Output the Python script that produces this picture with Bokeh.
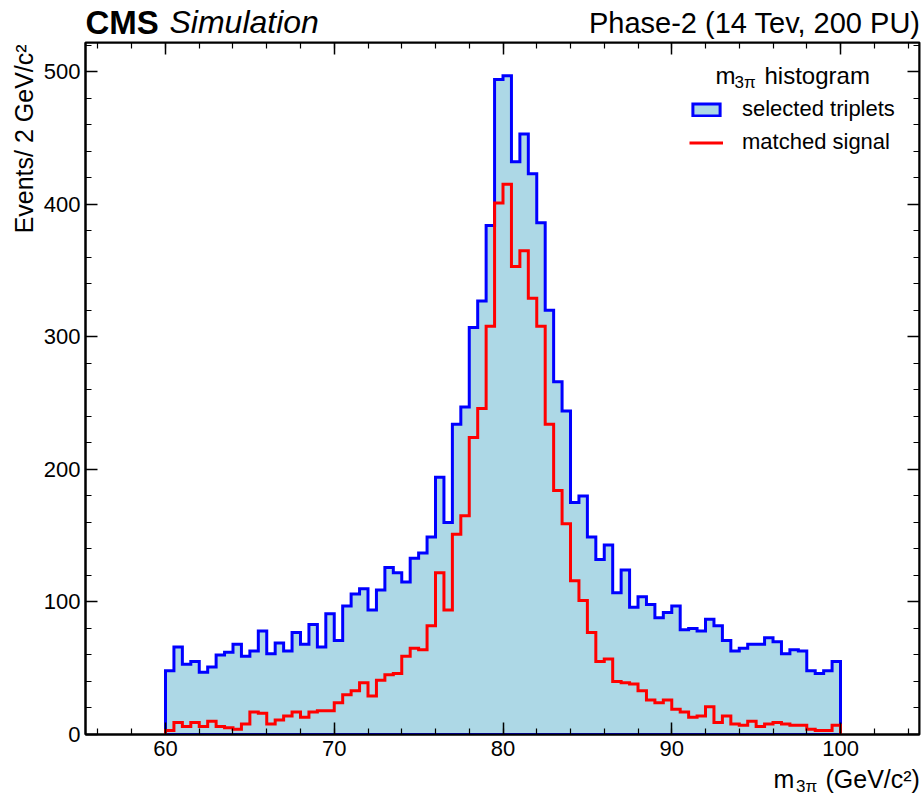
import numpy as np
from bokeh.plotting import figure
from bokeh.layouts import column, row
from bokeh.models import (Label, Legend, LegendItem, LinearAxis,
                          SingleIntervalTicker, Range1d, CustomLabelingPolicy)
from bokeh.embed import file_html
from bokeh.resources import INLINE

# ---------------- data ----------------
bin_low = 60.0
bin_width = 0.5
selected = [48, 66, 53, 55, 47, 51, 60, 62, 68, 59,
            63, 78, 61, 69, 63, 77, 68, 83, 66, 91,
            71, 97, 106, 110, 94, 109, 126, 122, 115, 133,
            137, 149, 194, 160, 234, 247, 307, 327, 384, 494,
            497, 432, 453, 423, 386, 320, 266, 244, 175, 180,
            149, 132, 143, 107, 124, 96, 104, 98, 88, 92,
            97, 79, 80, 78, 87, 82, 71, 63, 65, 68,
            68, 73, 70, 61, 64, 63, 48, 46, 48, 55]
matched = [3, 9, 6, 9, 6, 10, 6, 5, 4, 8,
           17, 16, 8, 11, 14, 17, 13, 17, 18, 18,
           24, 30, 33, 39, 29, 41, 45, 46, 59, 65,
           64, 82, 122, 94, 151, 165, 224, 246, 308, 401,
           415, 353, 365, 329, 308, 234, 184, 159, 116, 101,
           77, 55, 57, 40, 39, 38, 33, 26, 24, 26,
           19, 17, 13, 14, 21, 9, 14, 8, 7, 10,
           6, 8, 9, 8, 7, 7, 4, 3, 3, 7]
series_labels = ["selected triplets", "matched signal"]

edges = bin_low + bin_width * np.arange(len(selected) + 1)


def step_xy(counts):
    xs = np.repeat(edges, 2)
    ys = np.concatenate([[0.0], np.repeat(np.asarray(counts, float), 2), [0.0]])
    return xs, ys


FONT = "Liberation Sans"
MID = 0.3465  # distance (in em) from baseline to centre of the text box


def blank_fig(w, h, x0, x1, y0, y1):
    f = figure(width=w, height=h, output_backend="svg", toolbar_location=None,
               x_range=Range1d(x0, x1), y_range=Range1d(y0, y1),
               x_axis_location=None, y_axis_location=None, min_border=0)
    f.grid.visible = False
    f.outline_line_color = None
    f.background_fill_color = "white"
    f.border_fill_color = "white"
    return f


def lab(fig, text, x, y_base, size, style="normal", align="left", angle=0.0,
        screen=False, y_up=False):
    # y_base: desired baseline position; convert to the label's centre anchor
    shift = MID * size
    y = y_base + shift if y_up else y_base - shift
    kw = dict(x_units="screen", y_units="screen") if screen else {}
    fig.add_layout(Label(x=x, y=y, text=text, text_font=FONT,
                         text_font_size=f"{size}px", text_font_style=style,
                         text_align=align, text_baseline="middle", angle=angle,
                         text_color="black", **kw))


# ---------------- header (global y 0..40) ----------------
header = blank_fig(922, 40, 0, 922, 40, 0)
lab(header, "CMS", 85, 33.5, 33, style="bold")
lab(header, "Simulation", 169, 32.5, 32, style="italic")
lab(header, "Phase-2 (14 Tev, 200 PU)", 920, 32.5, 29, align="right")

# ---------------- y-axis title column (global x 0..38, y 40..766) ----------
ylab = blank_fig(38, 726, 0, 38, 766, 40)
ylab.add_layout(Label(x=32 - MID * 25, y=42, text="Events/ 2 GeV/c²",
                      text_font=FONT, text_font_size="25px", text_align="right",
                      text_baseline="middle", angle=np.pi / 2,
                      text_color="black"))

# ---------------- main plot ----------------
p = figure(width=884, height=726, output_backend="svg", toolbar_location=None,
           x_range=Range1d(55.26, 104.68), y_range=Range1d(0, 522),
           min_border_left=47, min_border_right=3, min_border_top=2,
           min_border_bottom=32)
p.grid.visible = False
p.background_fill_color = "white"
p.border_fill_color = "white"
p.outline_line_color = "black"
p.outline_line_width = 2

xs_b, ys_b = step_xy(selected)
xs_r, ys_r = step_xy(matched)
blue_r = p.patch(xs_b, ys_b, fill_color="#add8e6", line_color="#0000ff",
                 line_width=3, line_join="miter")
red_r = p.line(xs_r, ys_r, line_color="#ff0000", line_width=3, line_join="miter")

xtick = dict(interval=10, num_minor_ticks=5)
ytick = dict(interval=100, num_minor_ticks=5)
no_labels = "for (const i of indices) { indices.unset(i) }\nreturn indices"
top_ax = LinearAxis(ticker=SingleIntervalTicker(**xtick), fixed_location=522,
                    major_label_policy=CustomLabelingPolicy(code=no_labels))
right_ax = LinearAxis(ticker=SingleIntervalTicker(**ytick), fixed_location=104.68,
                      major_label_policy=CustomLabelingPolicy(code=no_labels))
p.add_layout(top_ax, "above")
p.add_layout(right_ax, "right")
bottom_ax = p.below[0]
left_ax = p.left[0]
bottom_ax.ticker = SingleIntervalTicker(**xtick)
left_ax.ticker = SingleIntervalTicker(**ytick)

for ax in (bottom_ax, left_ax, top_ax, right_ax):
    ax.axis_line_color = "black"
    ax.axis_line_width = 2
    ax.major_tick_in = 12
    ax.major_tick_out = 0
    ax.minor_tick_in = 6
    ax.minor_tick_out = 0
    ax.major_tick_line_color = "black"
    ax.minor_tick_line_color = "black"
    ax.major_tick_line_width = 1.5
    ax.minor_tick_line_width = 1.2
    ax.major_label_text_font = FONT
    ax.major_label_text_font_size = "22px"
    ax.major_label_text_color = "black"
bottom_ax.major_label_standoff = 6
left_ax.major_label_standoff = 5

legend = Legend(items=[LegendItem(label=series_labels[0], renderers=[blue_r]),
                       LegendItem(label=series_labels[1], renderers=[red_r])],
                location=(604, 579), glyph_width=34, glyph_height=15,
                label_standoff=19, spacing=7, padding=0, margin=0,
                border_line_color=None, background_fill_alpha=0,
                label_text_font=FONT, label_text_font_size="22px",
                label_text_color="black", label_height=25)
p.add_layout(legend)

# legend title (frame-relative screen units, y measured up from frame bottom)
FB = 734  # frame bottom, global px
lab(p, "m", 630, FB - 83, 24, screen=True, y_up=True)
lab(p, "3π", 649, FB - 88, 17, screen=True, y_up=True)
lab(p, "histogram", 679, FB - 83, 24, screen=True, y_up=True)

# ---------------- x-axis title (global y 766..798) ----------------
footer = blank_fig(922, 32, 0, 922, 798, 766)
lab(footer, "m", 773, 786.7, 25)
lab(footer, "3π", 795.5, 791.5, 17)
lab(footer, "(GeV/c²)", 825, 786.7, 25)

layout = column(header, row(ylab, p), footer)
open("out.html", "w").write(file_html(layout, INLINE))
